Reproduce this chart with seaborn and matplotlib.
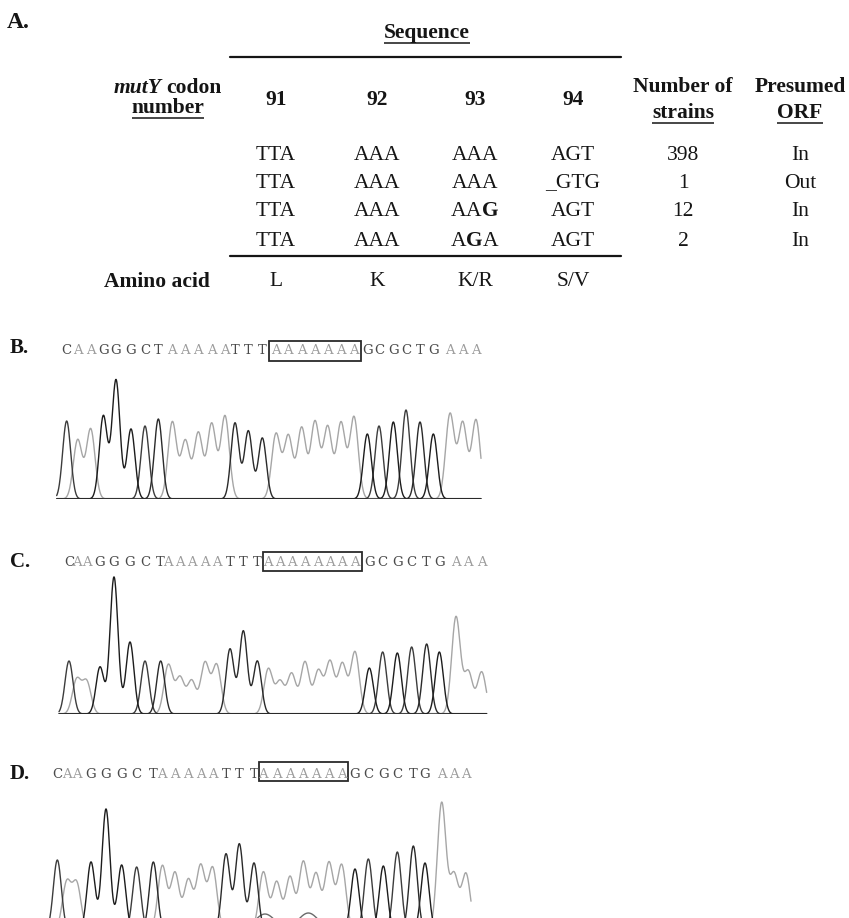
import numpy as np
import pandas as pd
import matplotlib
matplotlib.use('Agg')
import matplotlib.pyplot as plt
import seaborn as sns

########################################## DATOS ##############################################

# Tabla A
codones = ['91', '92', '93', '94']
secuencias = [['TTA', 'AAA', 'AAA', 'AGT'],
              ['TTA', 'AAA', 'AAA', '_GTG'],
              ['TTA', 'AAA', 'AA$\\mathbf{G}$', 'AGT'],
              ['TTA', 'AAA', 'A$\\mathbf{G}$A', 'AGT']]
n_cepas = ['398', '1', '12', '2']
orf = ['In', 'Out', 'In', 'In']
aminoacidos = ['L', 'K', 'K/R', 'S/V']

# Cromatogramas (posicion del pico en unidades de escaneo, altura del pico)
B_bases = 'CAAGGGCTAAAAATTTAAAAAAAGCGCTGAAA'
B_pos = [110, 143, 182, 220, 258, 303, 345, 385, 427, 466, 505, 545, 585, 615, 655, 697,
         738, 775, 815, 855, 893, 933, 972, 1012, 1047, 1090, 1128, 1170, 1210, 1260, 1298, 1338]
B_alt = [78, 59, 70, 83, 119, 70, 73, 80, 77, 58, 66, 75, 83, 76, 68, 61,
         65, 63, 71, 77, 72, 76, 82, 65, 73, 77, 89, 77, 65, 85, 76, 79]
B_caja = (16, 22)

C_bases = 'CAAGGGCTAAAAATTTAAAAAAAAGCGCTGAAA'
C_pos = [117, 140, 170, 210, 252, 300, 345, 392, 415, 450, 485, 525, 560, 600, 640, 682,
         715, 750, 785, 825, 865, 900, 937, 975, 1018, 1058, 1102, 1145, 1190, 1228, 1278, 1315, 1355]
C_alt = [53, 34, 32, 47, 137, 72, 53, 53, 49, 36, 33, 51, 49, 65, 83, 53,
         45, 32, 40, 52, 43, 52, 50, 62, 46, 62, 61, 67, 70, 62, 97, 42, 42]
C_caja = (16, 23)

D_bases = 'CAAGGGCTAAAAATTTAAAAAAAGCGCTGAAA'
D_pos = [82, 110, 140, 183, 228, 275, 320, 370, 397, 435, 475, 512, 548, 588, 628, 672,
         700, 740, 780, 820, 858, 897, 935, 975, 1015, 1060, 1102, 1150, 1185, 1235, 1272, 1308]
D_alt = [70, 47, 46, 68, 121, 65, 63, 68, 64, 57, 50, 64, 62, 76, 86, 67,
         58, 48, 53, 68, 56, 67, 65, 61, 71, 64, 78, 84, 67, 127, 55, 56]
D_caja = (16, 22)
D_joroba_pos = [705, 835]
D_joroba_alt = [16, 17]

######################################## GRAFICA #########################################

sns.set_style('white')
plt.rcParams['font.family'] = ['Liberation Serif', 'DejaVu Serif']
plt.rcParams['mathtext.fontset'] = 'custom'
plt.rcParams['mathtext.rm'] = 'Liberation Serif'
plt.rcParams['mathtext.bf'] = 'Liberation Serif:bold'
plt.rcParams['mathtext.it'] = 'Liberation Serif:italic'

W, H = 849, 918
fig = plt.figure(figsize=(W / 100, H / 100), dpi=100)
renderer = fig.canvas.get_renderer()

# Se crea un eje en pixeles para la tabla
tab = fig.add_axes([0, 0, 1, 1])
tab.set_xlim(0, W)
tab.set_ylim(H, 0)
tab.axis('off')

negro = '#151515'
fs = 15.5


def ancho_px(txt):
    bb = txt.get_window_extent(renderer=renderer)
    return bb.x1 - bb.x0


def subrayar(ax, txt, dy=10, lw=1.1):
    bb = txt.get_window_extent(renderer=renderer)
    inv = ax.transData.inverted()
    (x0, _), (x1, _) = inv.transform([[bb.x0, bb.y0], [bb.x1, bb.y1]])
    y = txt.get_position()[1] + dy
    ax.plot([x0, x1], [y, y], color=negro, lw=lw, solid_capstyle='butt')


tab.text(7, 23, 'A.', fontsize=17, fontweight='bold', ha='left', va='center', color=negro)
t = tab.text(427, 33, 'Sequence', fontsize=fs, fontweight='bold', ha='center', va='center', color=negro)
subrayar(tab, t)
tab.plot([230, 621], [57, 57], color=negro, lw=1.6)

# Encabezados: "mutY codon" centrado en la columna de etiquetas
t1 = tab.text(0, 88, 'mutY', fontsize=fs, fontweight='bold', fontstyle='italic',
              ha='left', va='center', color=negro)
t2 = tab.text(0, 88, 'codon', fontsize=fs, fontweight='bold', ha='left', va='center', color=negro)
w1, w2 = ancho_px(t1), ancho_px(t2)
x_ini = 168 - (w1 + 5 + w2) / 2
t1.set_x(x_ini)
t2.set_x(x_ini + w1 + 5)
t = tab.text(168, 108, 'number', fontsize=fs, fontweight='bold', ha='center', va='center', color=negro)
subrayar(tab, t)

col_x = [276, 377, 475, 573]
for x, c in zip(col_x, codones):
    tab.text(x, 100, c, fontsize=fs, fontweight='bold', ha='center', va='center', color=negro)
tab.text(683, 87, 'Number of', fontsize=fs, fontweight='bold', ha='center', va='center', color=negro)
t = tab.text(683, 113, 'strains', fontsize=fs, fontweight='bold', ha='center', va='center', color=negro)
subrayar(tab, t)
tab.text(800, 87, 'Presumed', fontsize=fs, fontweight='bold', ha='center', va='center', color=negro)
t = tab.text(800, 113, 'ORF', fontsize=fs, fontweight='bold', ha='center', va='center', color=negro)
subrayar(tab, t)

# Filas
filas_y = [155, 183, 212, 241]
for fy, sec, n, o in zip(filas_y, secuencias, n_cepas, orf):
    for x, s in zip(col_x, sec):
        tab.text(x, fy, s, fontsize=fs, ha='center', va='center', color=negro)
    tab.text(683, fy, n, fontsize=fs, ha='center', va='center', color=negro)
    tab.text(800, fy, o, fontsize=fs, ha='center', va='center', color=negro)

tab.plot([230, 621], [256, 256], color=negro, lw=1.6)
tab.text(210, 282, 'Amino acid', fontsize=fs, fontweight='bold', ha='right', va='center', color=negro)
for x, a in zip(col_x, aminoacidos):
    tab.text(x, 282, a, fontsize=fs, ha='center', va='center', color=negro)

# Colores de las trazas
colores_traza = {'A': '#a6a6a6', 'C': '#3c3c3c', 'G': '#1c1c1c', 'T': '#2a2a2a', 'N': '#6a6a6a'}
colores_letra = {'A': '#9c9c9c', 'C': '#4a4a4a', 'G': '#4a4a4a', 'T': '#4a4a4a'}


def cromatograma(etiqueta, label_y, base_px, bases, pos, alt, caja, y_letra, caja_y,
                 linea_base=True, joroba=None):
    ax = fig.add_axes([30 / W, 1 - base_px / H, 470 / W, 180 / H])
    ax.set_xlim(0, 1410)
    ax.set_ylim(0, 180)

    scan = np.arange(pos[0] - 30, pos[-1] + 16)
    pos = np.array(pos, dtype=float)
    alt = np.array(alt, dtype=float)
    bases_arr = np.array(list(bases))
    filas = []
    for b in ['A', 'C', 'G', 'T']:
        m = bases_arr == b
        sig = 13.0 if b == 'A' else 12.0
        senal = (alt[m][:, None] * np.exp(-(scan[None, :] - pos[m][:, None]) ** 2 / (2 * sig ** 2))).sum(axis=0)
        filas.append(pd.DataFrame({'scan': scan, 'senal': senal, 'base': b}))
    if joroba is not None:
        jp, ja = np.array(joroba[0], float), np.array(joroba[1], float)
        xs = np.arange(jp[0] - 60, jp[-1] + 70)
        senal = (ja[:, None] * np.exp(-(xs[None, :] - jp[:, None]) ** 2 / (2 * 30 ** 2))).sum(axis=0)
        filas.append(pd.DataFrame({'scan': xs, 'senal': senal, 'base': 'N'}))
    df = pd.concat(filas, ignore_index=True)
    orden = ['N', 'A', 'C', 'G', 'T'] if joroba is not None else ['A', 'C', 'G', 'T']

    if linea_base:
        ax.hlines(0, scan[0], scan[-1], color='#8c8c8c', lw=1.6, zorder=0)

    sns.lineplot(data=df, x='scan', y='senal', hue='base', hue_order=orden,
                 palette=colores_traza, estimator=None, legend=False, lw=1.0, ax=ax)

    for p, b in zip(pos, bases):
        ax.text(p, y_letra, b, fontsize=9.5, family='DejaVu Serif', ha='center', va='center',
                color=colores_letra[b], clip_on=False)

    i0, i1 = caja
    x0 = (pos[i0 - 1] + pos[i0]) / 2
    x1 = (pos[i1] + pos[i1 + 1]) / 2
    ax.add_patch(plt.Rectangle((x0, caja_y[0]), x1 - x0, caja_y[1] - caja_y[0],
                               fill=False, ec='#2a2a2a', lw=1.3, clip_on=False))
    ax.axis('off')

    tab.text(10, label_y, etiqueta, fontsize=15, fontweight='bold', ha='left', va='center', color=negro)


cromatograma('B.', 348, 499, B_bases, B_pos, B_alt, B_caja, 149, (138, 158))
cromatograma('C.', 562, 714, C_bases, C_pos, C_alt, C_caja, 151, (143, 162))
cromatograma('D.', 774, 930, D_bases, D_pos, D_alt, D_caja, 156, (149, 168),
             linea_base=False, joroba=(D_joroba_pos, D_joroba_alt))

fig.savefig('out.png', dpi=100)
